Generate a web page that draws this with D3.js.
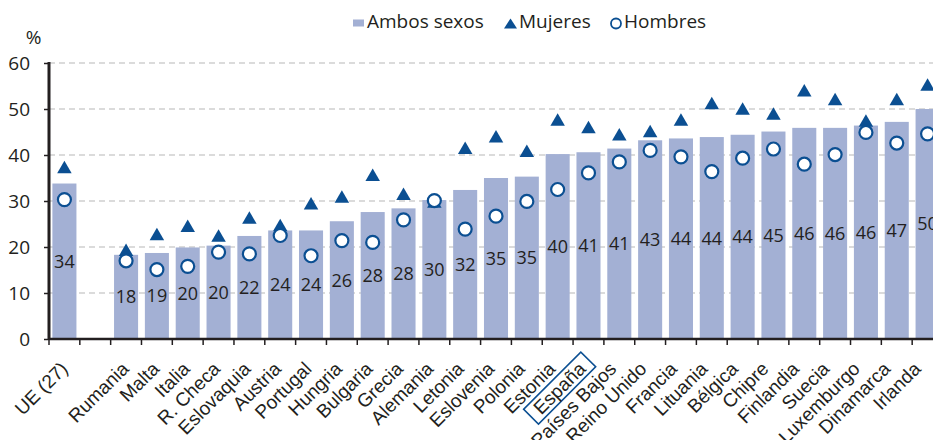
<!DOCTYPE html>
<html>
<head>
<meta charset="utf-8">
<script src="https://cdn.jsdelivr.net/npm/d3@7"></script>
<style>
	body { margin: 0; background: #fff; }
	svg { display: block; }
</style>
</head>
<body>
<div id="chart"></div>
<script>
var paises = ["UE (27)", "", "Rumania", "Malta", "Italia", "R. Checa",
	"Eslovaquia", "Austria", "Portugal", "Hungria", "Bulgaria", "Grecia",
	"Alemania", "Letonia", "Eslovenia", "Polonia", "Estonia", "España",
	"Países Bajos", "Reino Unido", "Francia", "Lituania", "Bélgica",
	"Chipre", "Finlandia", "Suecia", "Luxemburgo", "Dinamarca", "Irlanda"
];

var ambosSexos = [33.8, null, 18.3, 18.7, 19.9, 20.3, 22.4, 23.6, 23.6,
	25.6, 27.6, 28.4, 30.2, 32.4, 35.0, 35.3, 40.2, 40.6, 41.4, 43.2, 43.6,
	43.9, 44.4, 45.1, 45.9, 45.9, 46.4, 47.2, 50.0
];

var mujeres = [37.4, null, 19.4, 22.8, 24.6, 22.5, 26.4, 24.8, 29.5, 31.0,
	35.7, 31.6, 29.9, 41.6, 44.1, 40.9, 47.7, 46.1, 44.5, 45.2, 47.7, 51.3,
	50.1, 49.0, 54.1, 52.2, 47.5, 52.2, 55.3
];

var hombres = [30.3, null, 17.0, 15.1, 15.8, 18.9, 18.5, 22.5, 18.1, 21.4,
	21.0, 25.9, 30.1, 23.9, 26.7, 29.9, 32.5, 36.1, 38.5, 41.0, 39.6, 36.4,
	39.3, 41.3, 38.0, 40.1, 44.9, 42.6, 44.6
];

var yTicks = [0, 10, 20, 30, 40, 50, 60];
var destacado = "España";

var width = 933,
	height = 440;
var colorBar = "#a3b0d4",
	colorAzul = "#0b4f92",
	colorTexto = "#231f20";

var data = paises.map(function(p, i) {
	return { pais: p, ambos: ambosSexos[i], muj: mujeres[i], hom: hombres[i] };
});

var svg = d3.select("#chart").append("svg")
	.attr("width", width)
	.attr("height", height);

var x = d3.scaleBand()
	.domain(paises)
	.range([49, 943])
	.paddingInner(0.22)
	.paddingOuter(0.11);

// the rotated country names sit on a slightly tighter spacing than the bars
var xEtiqueta = d3.scalePoint()
	.domain(paises)
	.range([69, 922]);

var y = d3.scaleLinear()
	.domain([0, 60])
	.range([339, 63]);

// grid
svg.append("g")
	.selectAll("line")
	.data(yTicks.filter(function(d) { return d > 0; }))
	.enter().append("line")
	.attr("x1", 49).attr("x2", width)
	.attr("y1", function(d) { return y(d); })
	.attr("y2", function(d) { return y(d); })
	.attr("stroke", "#cfcfcf")
	.attr("stroke-width", 1.3)
	.attr("stroke-dasharray", "6,4");

// bars
var conDatos = data.filter(function(d) { return d.ambos != null; });

svg.append("g")
	.selectAll("rect")
	.data(conDatos)
	.enter().append("rect")
	.attr("x", function(d) { return x(d.pais); })
	.attr("width", x.bandwidth())
	.attr("y", function(d) { return y(d.ambos); })
	.attr("height", function(d) { return y(0) - y(d.ambos); })
	.attr("fill", colorBar);

// bar labels at half height
svg.append("g")
	.selectAll("text")
	.data(conDatos)
	.enter().append("text")
	.attr("x", function(d) { return x(d.pais) + x.bandwidth() / 2; })
	.attr("y", function(d) { return y(d.ambos / 2); })
	.attr("dy", "0.36em")
	.attr("text-anchor", "middle")
	.style("font-family", "'Open Sans', sans-serif")
	.style("font-size", "18px")
	.style("fill", colorTexto)
	.text(function(d) { return d3.format(".0f")(d.ambos); });

// axes
var yAxis = d3.axisLeft(y)
	.tickValues(yTicks)
	.tickSize(5)
	.tickPadding(14)
	.tickFormat(d3.format("d"));

var gy = svg.append("g")
	.attr("transform", "translate(49,0)")
	.call(yAxis);
gy.select(".domain").remove();
gy.selectAll(".tick line").attr("stroke", colorTexto).attr("stroke-width", 1.5);
gy.selectAll("text")
	.style("font-family", "'Open Sans', sans-serif")
	.style("font-size", "19px")
	.style("fill", colorTexto);

svg.append("line")
	.attr("x1", 49).attr("x2", 49)
	.attr("y1", y(60) - 1).attr("y2", y(0) + 1)
	.attr("stroke", colorTexto)
	.attr("stroke-width", 3);

svg.append("line")
	.attr("x1", 49).attr("x2", width)
	.attr("y1", y(0)).attr("y2", y(0))
	.attr("stroke", colorTexto)
	.attr("stroke-width", 2.5);

// bottom ticks on band boundaries
var step = x.step();
svg.append("g")
	.selectAll("line")
	.data(d3.range(paises.length + 1))
	.enter().append("line")
	.attr("x1", function(i) { return 49 + i * step; })
	.attr("x2", function(i) { return 49 + i * step; })
	.attr("y1", y(0))
	.attr("y2", y(0) + 6)
	.attr("stroke", colorTexto)
	.attr("stroke-width", 1.5);

svg.append("text")
	.attr("x", 33.5).attr("y", 44)
	.attr("text-anchor", "middle")
	.style("font-family", "'Open Sans', sans-serif")
	.style("font-size", "19px")
	.style("fill", colorTexto)
	.text("%");

// country labels
var etiquetas = svg.append("g")
	.selectAll("g")
	.data(data.filter(function(d) { return d.pais !== ""; }))
	.enter().append("g")
	.attr("transform", function(d) {
		return "translate(" + xEtiqueta(d.pais) + ",370) rotate(-45)";
	});

etiquetas.append("text")
	.attr("text-anchor", "end")
	.style("font-family", "'Liberation Sans', Arial, sans-serif")
	.style("font-size", "19px")
	.style("fill", colorTexto)
	.text(function(d) { return d.pais; });

etiquetas.filter(function(d) { return d.pais === destacado; })
	.each(function() {
		var g = d3.select(this);
		var bb = g.select("text").node().getBBox();
		g.insert("rect", "text")
			.attr("x", bb.x - 8)
			.attr("y", bb.y)
			.attr("width", bb.width + 16)
			.attr("height", bb.height)
			.attr("fill", "none")
			.attr("stroke", colorAzul)
			.attr("stroke-width", 1.6);
	});

// markers
var tri = function(w, h) {
	return "M0," + (-h / 2) + "L" + (w / 2) + "," + (h / 2) + "L" + (-w / 2) + "," + (h / 2) + "Z";
};

svg.append("g")
	.selectAll("path")
	.data(data.filter(function(d) { return d.muj != null; }))
	.enter().append("path")
	.attr("transform", function(d) {
		return "translate(" + (x(d.pais) + x.bandwidth() / 2) + "," + y(d.muj) + ")";
	})
	.attr("d", tri(14.5, 12.5))
	.attr("fill", colorAzul);

svg.append("g")
	.selectAll("circle")
	.data(data.filter(function(d) { return d.hom != null; }))
	.enter().append("circle")
	.attr("cx", function(d) { return x(d.pais) + x.bandwidth() / 2; })
	.attr("cy", function(d) { return y(d.hom); })
	.attr("r", 6.5)
	.attr("fill", "#fff")
	.attr("stroke", colorAzul)
	.attr("stroke-width", 2.2);

// legend
var leyenda = svg.append("g");
leyenda.append("rect")
	.attr("x", 353).attr("y", 19.5)
	.attr("width", 11).attr("height", 7)
	.attr("fill", colorBar);
leyenda.append("path")
	.attr("transform", "translate(510.5,23.5)")
	.attr("d", tri(13, 10))
	.attr("fill", colorAzul);
leyenda.append("circle")
	.attr("cx", 616).attr("cy", 23.5)
	.attr("r", 5)
	.attr("fill", "#fff")
	.attr("stroke", colorAzul)
	.attr("stroke-width", 1.8);

var itemsLeyenda = [
	{ texto: "Ambos sexos", x: 367 },
	{ texto: "Mujeres", x: 519 },
	{ texto: "Hombres", x: 624 }
];
leyenda.selectAll("text")
	.data(itemsLeyenda)
	.enter().append("text")
	.attr("x", function(d) { return d.x; })
	.attr("y", 28)
	.style("font-family", "'Open Sans', sans-serif")
	.style("font-size", "19px")
	.style("fill", colorTexto)
	.text(function(d) { return d.texto; });
</script>
</body>
</html>
